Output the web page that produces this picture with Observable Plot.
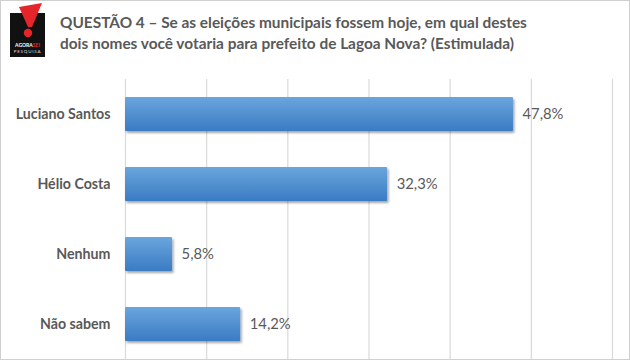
<!DOCTYPE html>
<html><head><meta charset="utf-8">
<script src="https://cdn.jsdelivr.net/npm/d3@7"></script>
<script src="https://cdn.jsdelivr.net/npm/@observablehq/plot@0.6"></script>
<style>
body{margin:0;background:#fff;}
#wrap{position:relative;width:630px;height:360px;overflow:hidden;background:#fff;}
#frame{position:absolute;left:0;top:0;width:628px;height:358px;border:1px solid #d0d0d0;pointer-events:none;}
#title{position:absolute;left:60px;top:12px;font-family:Lato,"Open Sans",sans-serif;font-weight:700;font-size:15.4px;line-height:21px;color:#595959;white-space:nowrap;}
#logo{position:absolute;left:10px;top:13px;width:35px;height:44px;background:#111;}
#logo .a{position:absolute;left:0;width:35px;top:29px;text-align:center;font:700 5px Lato,sans-serif;color:#fff;}
#logo .b{position:absolute;left:0;width:35px;top:36px;text-align:center;font:400 4.5px Lato,sans-serif;color:#ddd;letter-spacing:0.8px;}
#chart{position:absolute;left:0;top:0;}
</style></head>
<body>
<div id="wrap">
  <div id="chart"></div>
  <div id="logo">
    <svg width="35" height="34" style="position:absolute;left:0;top:-8px;overflow:visible">
      <path d="M9 2 L32 -2 L22 22 L18 22 Z" fill="#e4262a"/>
      <circle cx="18" cy="28" r="4.2" fill="#e4262a"/>
    </svg>
    <div class="a">AGORA<span style="color:#e4262a">SEI</span></div>
    <div class="b">PESQUISA</div>
  </div>
  <div id="title">QUESTÃO 4 – Se as eleições municipais fossem hoje, em qual destes<br>dois nomes você votaria para prefeito de Lagoa Nova? (Estimulada)</div>
  <div id="frame"></div>
</div>
<script>
const categories = ["Luciano Santos", "Hélio Costa", "Nenhum", "Não sabem"];
const values = [47.8, 32.3, 5.8, 14.2];
const valueLabels = ["47,8%", "32,3%", "5,8%", "14,2%"];
const gridTicks = [0, 10, 20, 30, 40, 50, 60];

const data = categories.map((c, i) => ({cat: c, v: values[i], label: valueLabels[i]}));

const plot = Plot.plot({
  width: 630,
  height: 360,
  marginTop: 79,
  marginBottom: 1,
  marginLeft: 125,
  marginRight: 18,
  style: {fontFamily: "Lato, 'Open Sans', sans-serif", background: "transparent", overflow: "visible"},
  x: {domain: [0, 60], axis: null},
  y: {domain: categories, paddingInner: 0.514, paddingOuter: 0.257, axis: null},
  marks: [
    Plot.ruleX(gridTicks, {stroke: "#d9d9d9", strokeWidth: 1.2}),
    Plot.barX(data, {x: "v", y: "cat", fill: "url(#barGrad)", rx: 1}),
    Plot.text(data, {x: 0, y: "cat", text: "cat", textAnchor: "end", dx: -15, fontSize: 14.2, fontWeight: 700, fill: "#595959"}),
    Plot.text(data, {x: "v", y: "cat", text: "label", textAnchor: "start", dx: 9, fontSize: 14.8, fill: "#595959"})
  ]
});

const svg = d3.select(plot);
const defs = svg.insert("defs", ":first-child");
const g = defs.append("linearGradient").attr("id", "barGrad").attr("x1", 0).attr("y1", 0).attr("x2", 0).attr("y2", 1);
g.append("stop").attr("offset", "0%").attr("stop-color", "#6aa6dd");
g.append("stop").attr("offset", "100%").attr("stop-color", "#3a7bc3");
const f = defs.append("filter").attr("id", "shadow").attr("x", "-10%").attr("y", "-20%").attr("width", "130%").attr("height", "160%");
f.append("feDropShadow").attr("dx", 1.5).attr("dy", 2).attr("stdDeviation", 1.3).attr("flood-color", "#000").attr("flood-opacity", 0.35);
svg.selectAll("g[aria-label='bar'] rect").attr("filter", "url(#shadow)");

document.getElementById("chart").appendChild(plot);
</script>
</body></html>
